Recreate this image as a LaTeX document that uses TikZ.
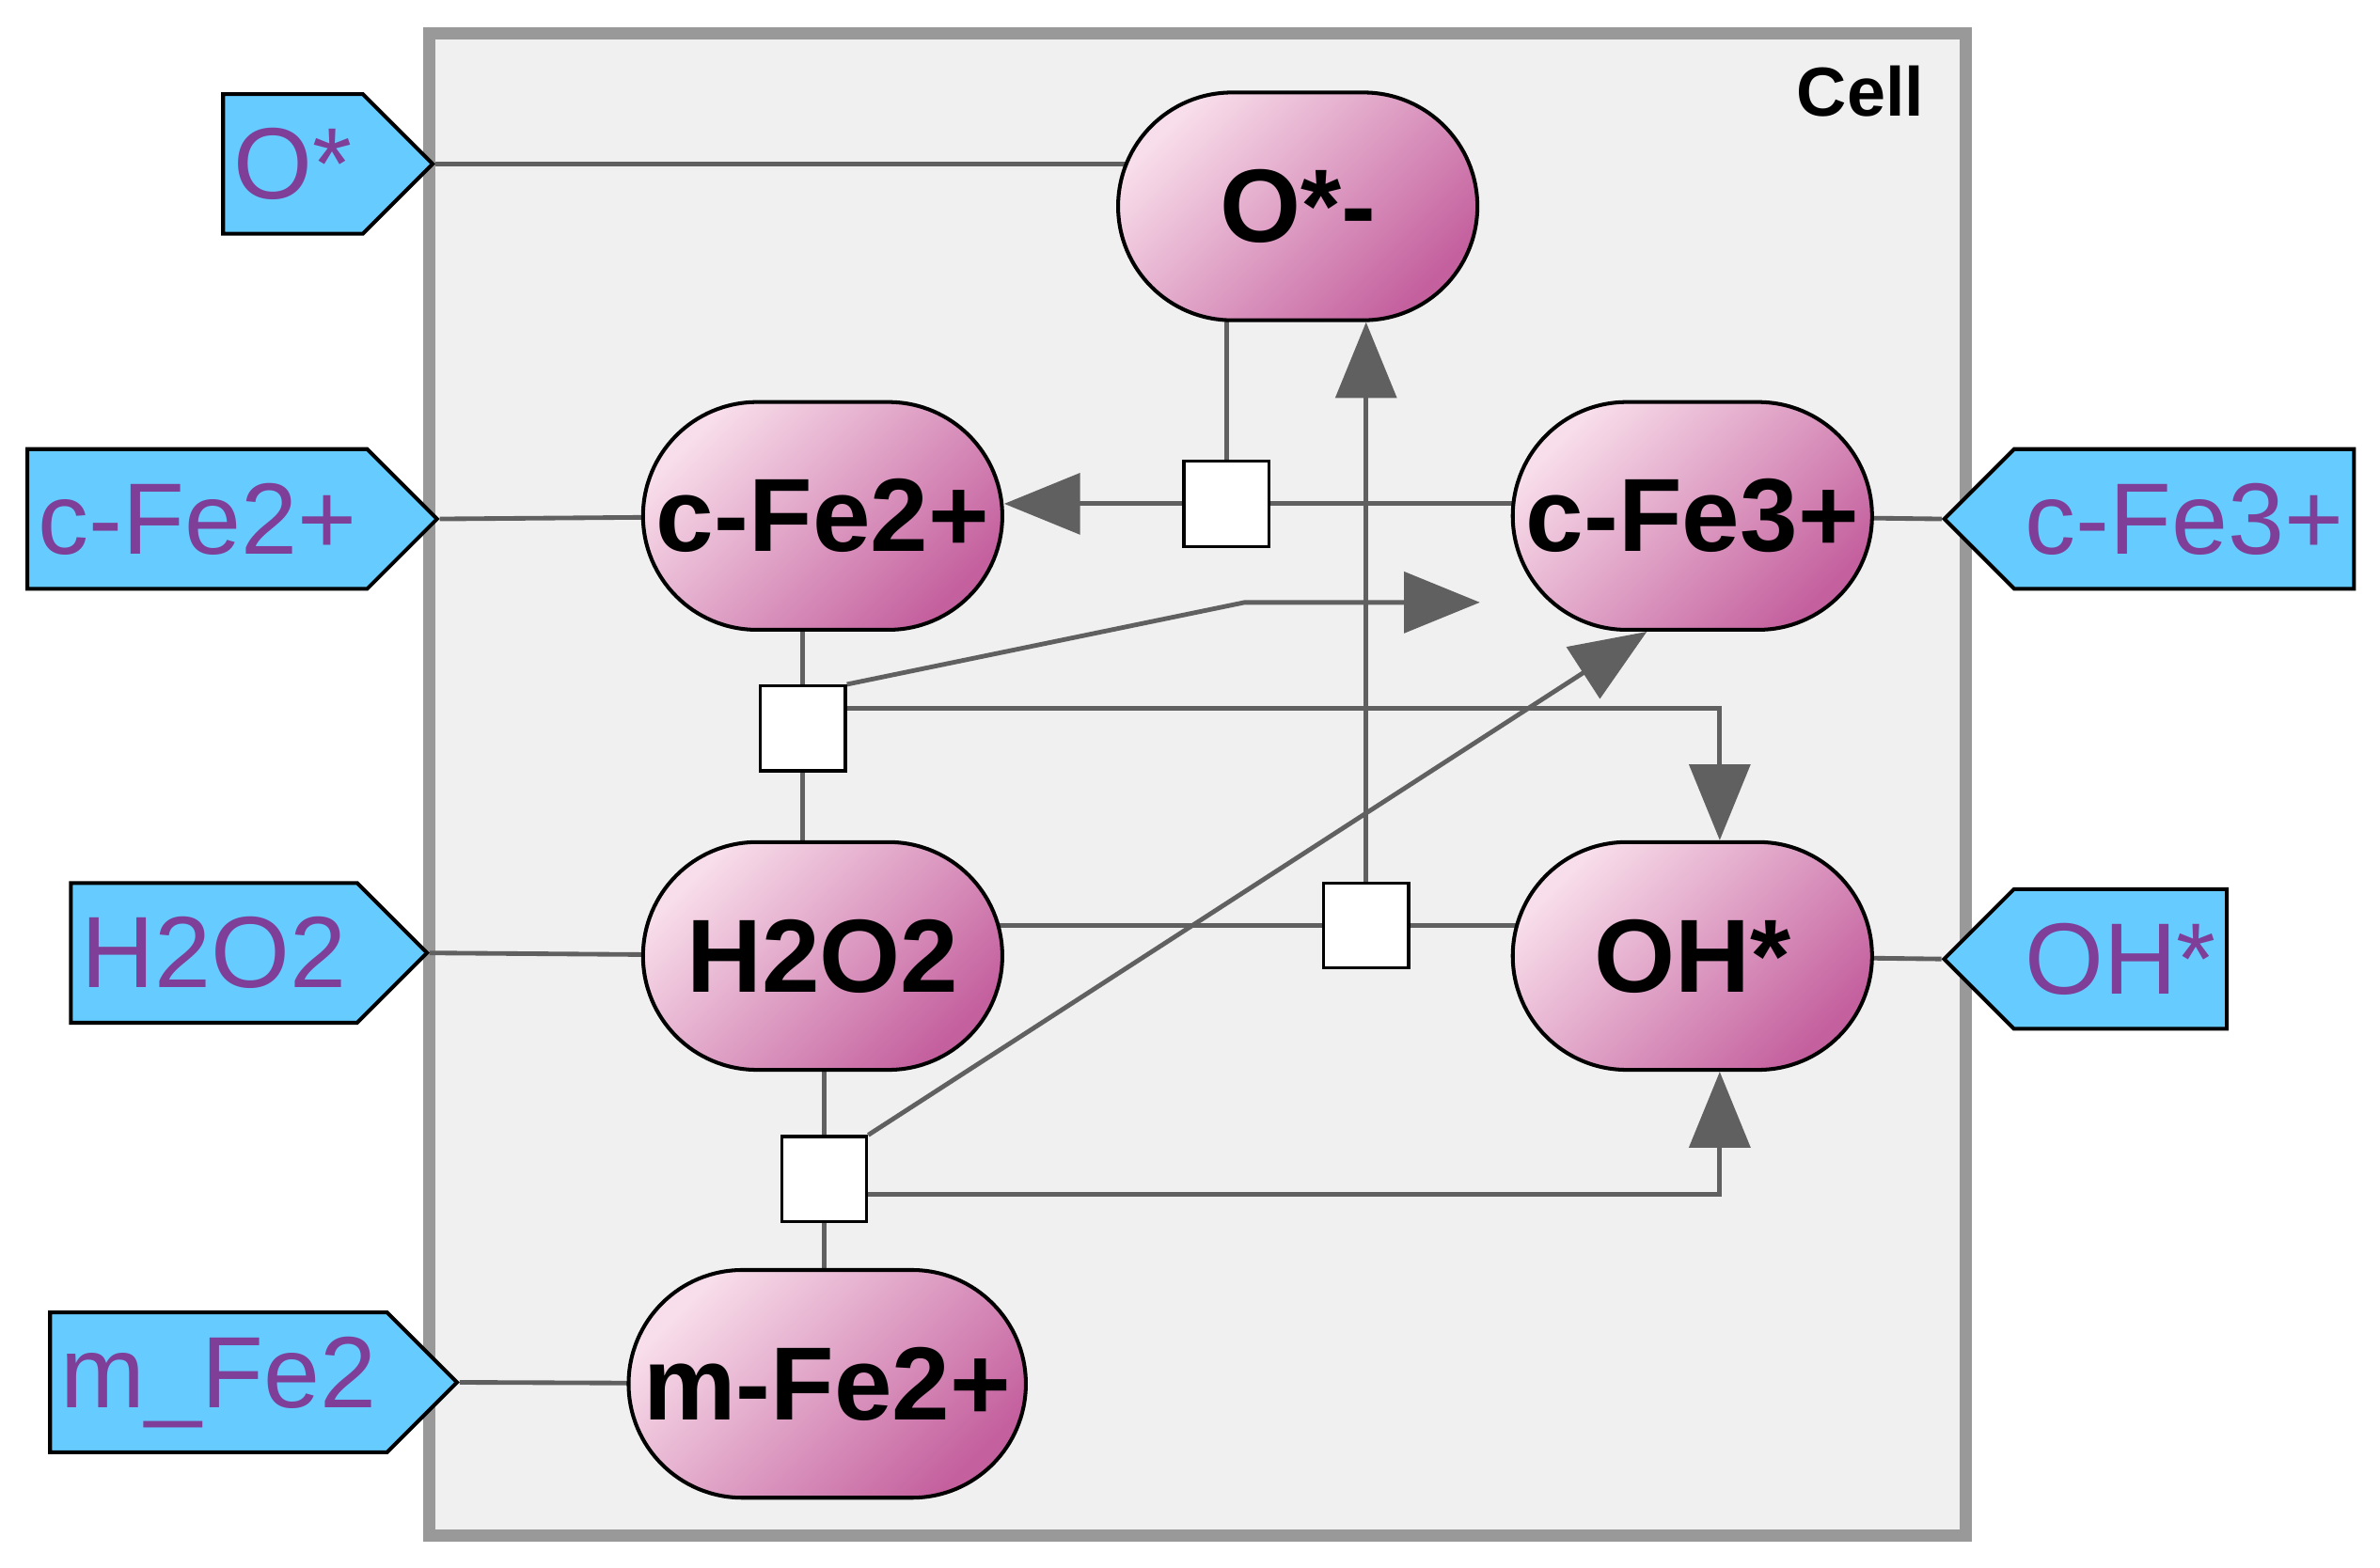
\documentclass[tikz,border=0pt]{standalone}
\usepackage{fontspec}
\setmainfont{Liberation Sans}
\usetikzlibrary{shapes.misc,shapes.symbols,arrows.meta,calc}
\definecolor{tagc}{HTML}{66CCFF}
\definecolor{tagt}{HTML}{7F3F98}
\definecolor{pinkA}{HTML}{F8DDEA}
\definecolor{pinkB}{HTML}{C4609E}
\definecolor{edgec}{HTML}{606060}
\definecolor{cellf}{HTML}{F0F0F0}
\definecolor{cellb}{HTML}{999999}
\pgfdeclarelayer{back}\pgfdeclarelayer{edges}
\pgfsetlayers{back,edges,main}
\tikzset{
 sp/.style={rounded rectangle,draw=black,line width=0.025cm,minimum width=2.6cm,minimum height=1.5cm,
   left color=pinkA,right color=pinkB,shading angle=45,font=\fontsize{19.5}{21}\selectfont\bfseries},
 tag/.style={signal,draw=black,line width=0.025cm,fill=tagc,text=tagt,minimum height=0.92cm,
   font=\fontsize{19}{21}\selectfont,inner sep=2pt},
 rs/.style={rectangle,draw=black,fill=white,line width=0.02cm,minimum size=0.56cm,inner sep=0pt},
 ln/.style={draw=edgec,line width=0.03cm},
 ar/.style={ln,-{Triangle[length=0.5cm,width=0.4cm]}},
}
\begin{document}
\begin{tikzpicture}[x=0.01cm,y=-0.01cm]
\useasboundingbox (0,0) rectangle (1568,1033);
\begin{pgfonlayer}{back}
\draw[draw=cellb,fill=cellf,line width=0.08cm] (283,22) rectangle (1295,1012);
\end{pgfonlayer}
\node[font=\fontsize{13}{14}\selectfont\bfseries,anchor=east] (cell) at (1280,60) {Cell};
\node[sp] (Om) at (855,136) {O*-};
\node[sp] (cFe2) at (542,340) {c-Fe2+};
\node[sp] (cFe3) at (1115,340) {c-Fe3+};
\node[sp] (H2O2) at (542,630) {H2O2};
\node[sp] (OH) at (1115,630) {OH*};
\node[sp,minimum width=2.85cm] (mFe2) at (545,912) {m-Fe2+};
\node[tag,signal to=east,minimum width=1.34cm] (tO) at (193,108) {O*};
\node[tag,signal to=east,minimum width=2.69cm] (tcFe2) at (130,342) {c-Fe2+};
\node[tag,signal to=east,minimum width=2.3cm] (tH2O2) at (141,628) {H2O2};
\node[tag,signal to=east,minimum width=2.59cm] (tmFe2) at (144,911) {m\_Fe2};
\node[tag,signal to=west,minimum width=2.67cm] (tcFe3) at (1439,342) {c-Fe3+};
\node[tag,signal to=west,minimum width=1.82cm] (tOH) at (1397,632) {OH*};
\node[rs] (s1) at (808,332) {};
\node[rs] (s2) at (529,480) {};
\node[rs] (s3) at (900,610) {};
\node[rs] (s4) at (543,777) {};
\begin{pgfonlayer}{edges}
\draw[ln] (tO.east) -- (tO.east -| Om.center);
\draw[ln] (tcFe2.east) -- (cFe2.center);
\draw[ln] (tH2O2.east) -- (H2O2.center);
\draw[ln] (tmFe2.east) -- (mFe2.center);
\draw[ln] (tcFe3.west) -- (cFe3.center);
\draw[ln] (tOH.west) -- (OH.center);
\draw[ln] (s1.north) -- (s1.north |- Om.center);
\draw[ln] (s1.east) -- (s1.east -| cFe3.center);
\draw[ar] (s1.west) -- (s1.west -| cFe2.east);
\draw[ln] (s2.north) -- (s2.north |- cFe2.center);
\draw[ln] (s2.south) -- (s2.south |- H2O2.center);
\draw[ar] (s2.north east) -- (820,397) -- (975,397);
\draw[ar] ([yshift=0.13cm]s2.east) -| ([xshift=0.18cm]OH.north);
\draw[ln] (s3.west) -- (s3.west -| H2O2.center);
\draw[ln] (s3.east) -- (s3.east -| OH.center);
\draw[ar] (s3.north) -- (s3.north |- Om.south);
\draw[ln] (s4.north) -- (s4.north |- H2O2.center);
\draw[ln] (s4.south) -- (s4.south |- mFe2.center);
\draw[ar] (s4.north east) -- ([xshift=-0.3cm]cFe3.south);
\draw[ar] ([yshift=-0.1cm]s4.east) -| ([xshift=0.18cm]OH.south);
\end{pgfonlayer}
\end{tikzpicture}
\end{document}
